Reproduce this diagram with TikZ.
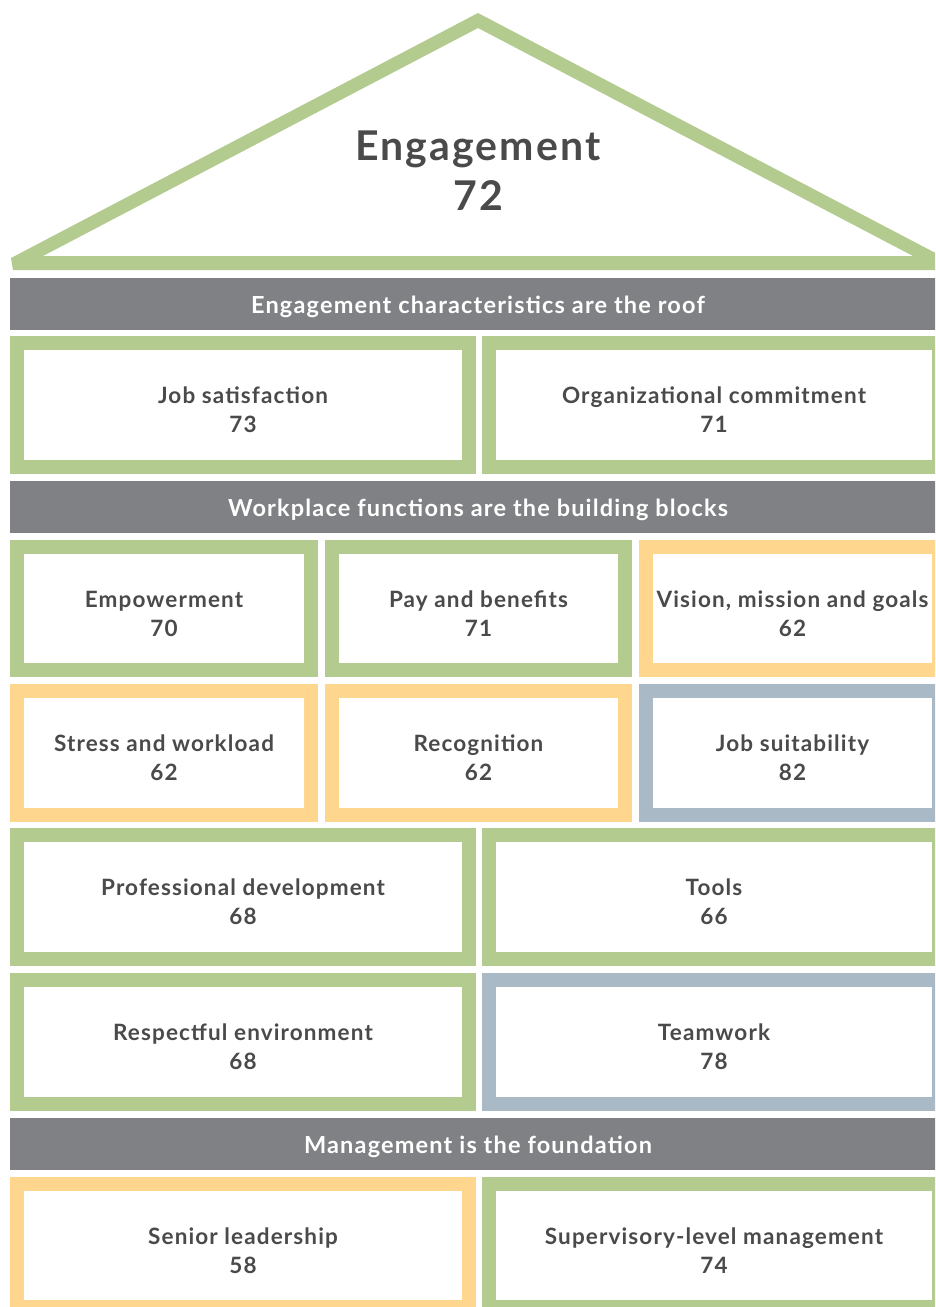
\documentclass[tikz,border=0pt]{standalone}
\usepackage{fontspec}
\setmainfont{Lato}[LetterSpace=5]
\definecolor{leaf}{HTML}{B3CB8F}
\definecolor{sun}{HTML}{FED68D}
\definecolor{slate}{HTML}{A9BAC6}
\definecolor{bandgray}{HTML}{808184}
\definecolor{ink}{HTML}{4A4A4A}
% a framed block: name, frame colour, inner width, inner height, centre x, centre y, text
\newcommand\cellbox[7]{%
  \node[blk=#2, minimum width=#3pt, minimum height=#4pt] (#1) at (#5,#6) {};
  \node[blktext, yshift=-5pt] (#1-text) at (#1) {#7};
}
\begin{document}
\begin{tikzpicture}[x=1pt,y=-1pt,
  blk/.style={draw=#1, line width=14pt, fill=white, inner sep=0pt},
  blktext/.style={text=ink, align=center, inner sep=0pt,
    font=\bfseries\fontsize{22.5}{29}\selectfont},
  band/.style={fill=bandgray, inner sep=0pt, minimum width=936pt, minimum height=52pt},
  bandtext/.style={text=white, inner sep=0pt, font=\bfseries\fontsize{23.5}{26}\selectfont},
]
\useasboundingbox (0,0) rectangle (935,1307);
\clip (0,0) rectangle (935,1307);

% roof
\fill[leaf, even odd rule]
  (11,258) -- (478,13) -- (945,258) -- (943,270) -- (13,270) -- cycle
  (43,256) -- (478,28) -- (913,256) -- cycle;
\node[text=ink, align=center, font=\bfseries\fontsize{41}{50}\selectfont] (eng) at (478,171) {Engagement\\72};

% section bands
\node[band] (roofband) at (478,304) {};
\node[bandtext, yshift=-3pt] (roofband-text) at (roofband) {Engagement characteristics are the roof};
\node[band] (blockband) at (478,506.5) {};
\node[bandtext, yshift=-3pt] (blockband-text) at (blockband) {Workplace functions are the building blocks};
\node[band] (baseband) at (478,1144) {};
\node[bandtext, yshift=-3pt] (baseband-text) at (baseband) {Management is the foundation};

% roof characteristics
\cellbox{jobsat}{leaf}{452}{124}{243}{405}{Job satisfaction\\73}
\cellbox{orgcom}{leaf}{450}{124}{714}{405}{Organizational commitment\\71}

% building blocks, three per row
\cellbox{empow}{leaf}{294}{123}{164}{608.5}{Empowerment\\70}
\cellbox{pay}{leaf}{293}{123}{478.5}{608.5}{Pay and benefits\\71}
\cellbox{vision}{sun}{293}{123}{792.5}{608.5}{Vision, mission and goals\\62}

\cellbox{stress}{sun}{294}{124}{164}{753}{Stress and workload\\62}
\cellbox{recog}{sun}{293}{124}{478.5}{753}{Recognition\\62}
\cellbox{suit}{slate}{293}{124}{792.5}{753}{Job suitability\\82}

% building blocks, two per row
\cellbox{profdev}{leaf}{452}{124}{243}{897}{Professional development\\68}
\cellbox{tools}{leaf}{450}{124}{714}{897}{Tools\\66}

\cellbox{respect}{leaf}{452}{124}{243}{1042}{Respectful environment\\68}
\cellbox{team}{slate}{450}{124}{714}{1042}{Teamwork\\78}

% foundation
\cellbox{senior}{sun}{452}{123}{243}{1245.5}{Senior leadership\\58}
\cellbox{superv}{leaf}{450}{123}{714}{1245.5}{Supervisory-level management\\74}
\end{tikzpicture}
\end{document}
